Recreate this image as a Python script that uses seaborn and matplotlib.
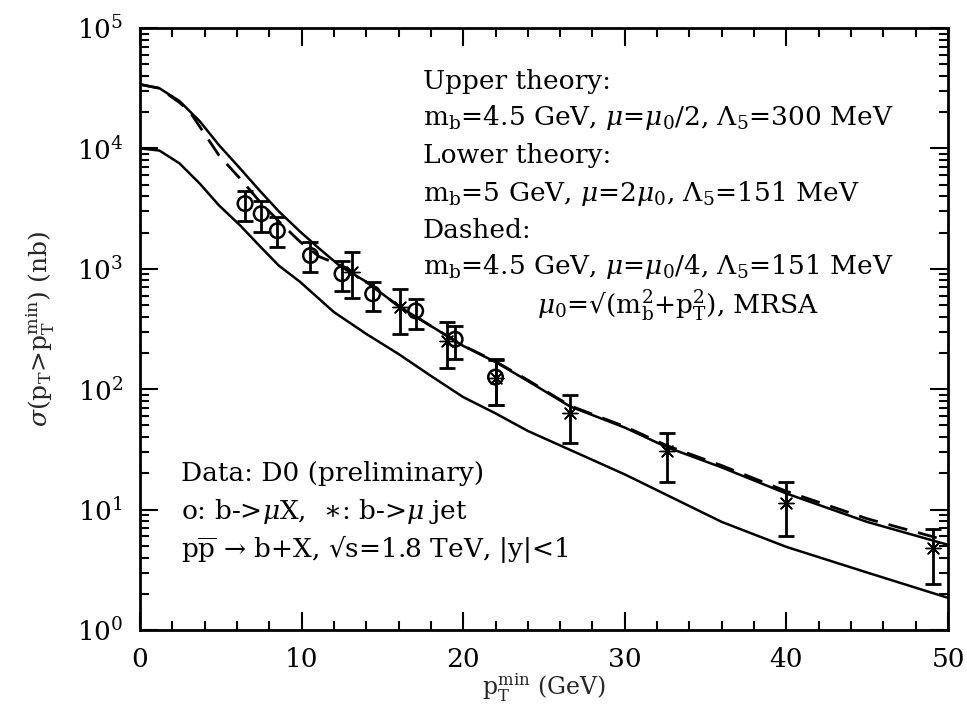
import numpy as np
import pandas as pd
import matplotlib
matplotlib.use("Agg")
import matplotlib.pyplot as plt
import seaborn as sns

# ---- theory curves ----
upper_x = [0, 1.2, 2.45, 3.7, 4.9, 6.2, 7.4, 8.6, 9.9, 11.1, 12.35, 14, 16, 18, 20, 22, 24, 26.6, 30, 32.6, 36, 40, 45, 50]
upper_y = [34000, 31600, 24700, 16800, 10600, 6800, 4470, 2990, 2040, 1470, 1060, 780, 490, 335, 229, 168, 117, 72, 48, 33, 22.4, 13.6, 7.9, 5.1]

lower_x = [0, 1.2, 2.45, 3.7, 4.9, 6.2, 7.4, 8.6, 9.9, 12, 14, 16, 18, 20, 22, 24, 30, 36, 40, 45, 50]
lower_y = [10000, 9600, 7500, 5100, 3350, 2290, 1550, 1060, 780, 437, 288, 196, 129, 86, 63, 45, 19.6, 7.9, 4.9, 3.0, 1.85]

dashed_x = [0, 1.2, 2.45, 3.1, 4.9, 6.2, 7.4, 8.6, 9.9, 11.1, 12.35, 14, 16, 18, 20, 22, 24, 26.6, 30, 32.6, 36, 40, 45, 50]
dashed_y = [34000, 31600, 24000, 20000, 8700, 5600, 3630, 2470, 1680, 1260, 1080, 780, 490, 335, 230, 170, 119, 73, 49, 34, 23.2, 14.2, 8.4, 5.5]

# ---- D0 data ----
mux_x = [6.5, 7.5, 8.5, 10.55, 12.5, 14.4, 17.06, 19.5, 22.0]
mux_y = [3480, 2870, 2070, 1290, 910, 620, 447, 260, 126]
mux_hi = [4470, 3630, 2710, 1680, 1170, 780, 562, 335, 174]
mux_lo = [2510, 2040, 1520, 945, 660, 447, 316, 178, 74]

jet_x = [13.1, 16.07, 19.0, 22.0, 26.6, 32.6, 40.0, 49.1]
jet_y = [945, 480, 251, 124, 64, 30.4, 11.4, 4.8]
jet_hi = [1380, 680, 363, 178, 89, 43.6, 16.8, 6.9]
jet_lo = [575, 288, 150, 74, 35.5, 16.8, 6.0, 2.4]

x_ticks = [0, 10, 20, 30, 40, 50]

sns.set_style("ticks")
plt.rcParams["font.family"] = ["DejaVu Serif", "DejaVu Sans"]
plt.rcParams["mathtext.fontset"] = "dejavuserif"
plt.rcParams["axes.unicode_minus"] = False
plt.rcParams["axes.formatter.use_mathtext"] = True

fig = plt.figure(figsize=(9.67, 7.06), dpi=100)
ax = fig.add_axes([140/967, 1-630/706, (948-140)/967, (630-28)/706])

curves = pd.concat([
    pd.DataFrame({"pt": upper_x, "sigma": upper_y, "curve": "upper"}),
    pd.DataFrame({"pt": lower_x, "sigma": lower_y, "curve": "lower"}),
])
sns.lineplot(data=curves, x="pt", y="sigma", units="curve", estimator=None,
             color="black", lw=1.8, ax=ax, sort=False)
sns.lineplot(x=dashed_x, y=dashed_y, color="black", lw=2.0, ax=ax,
             linestyle=(0, (7, 4)), sort=False)

mux_x_a = np.array(mux_x); mux_y_a = np.array(mux_y)
ax.errorbar(mux_x_a, mux_y_a,
            yerr=[mux_y_a - np.array(mux_lo), np.array(mux_hi) - mux_y_a],
            fmt="none", ecolor="black", elinewidth=2.0, capsize=5.5, capthick=2.0)
jet_x_a = np.array(jet_x); jet_y_a = np.array(jet_y)
ax.errorbar(jet_x_a, jet_y_a,
            yerr=[jet_y_a - np.array(jet_lo), np.array(jet_hi) - jet_y_a],
            fmt="none", ecolor="black", elinewidth=2.0, capsize=5.5, capthick=2.0)
sns.scatterplot(x=mux_x, y=mux_y, marker="o", s=110, facecolor="none",
                edgecolor="black", linewidth=1.8, ax=ax)
sns.scatterplot(x=jet_x, y=jet_y, marker=(8, 2, 0), s=120, color="black",
                linewidth=1.0, ax=ax)

ax.set_yscale("log")
ax.set_xlim(0, 50)
ax.set_ylim(1, 1e5)
ax.set_xticks(x_ticks)
ax.set_xticklabels([str(t) for t in x_ticks])
ax.xaxis.set_minor_locator(matplotlib.ticker.MultipleLocator(2))
ax.yaxis.set_minor_locator(matplotlib.ticker.LogLocator(base=10, subs=np.arange(2, 10), numticks=20))
ax.tick_params(which="both", direction="in", top=True, right=True, width=1.5, labelsize=19, colors="black")
ax.tick_params(axis="x", pad=12)
ax.tick_params(axis="y", pad=12)
ax.tick_params(which="major", length=13)
ax.tick_params(which="minor", length=6.5)
for sp in ax.spines.values():
    sp.set_linewidth(2)
    sp.set_color("black")

ax.set_xlabel(r"p$_\mathrm{T}^\mathrm{min}$ (GeV)", fontsize=17, labelpad=0)
ax.set_ylabel(r"$\sigma$(p$_\mathrm{T}$>p$_\mathrm{T}^\mathrm{min}$) (nb)", fontsize=18, labelpad=14)

fs = 19
tx = 423/967
lines = [
    (81, tx, "Upper theory:"),
    (118, tx, r"m$_\mathrm{b}$=4.5 GeV, $\mu$=$\mu_0$/2, $\Lambda_5$=300 MeV"),
    (156, tx, "Lower theory:"),
    (193, tx, r"m$_\mathrm{b}$=5 GeV, $\mu$=2$\mu_0$, $\Lambda_5$=151 MeV"),
    (230, tx, "Dashed:"),
    (267, tx, r"m$_\mathrm{b}$=4.5 GeV, $\mu$=$\mu_0$/4, $\Lambda_5$=151 MeV"),
    (305, 537/967, r"$\mu_0$=√(m$_\mathrm{b}^2$+p$_\mathrm{T}^2$), MRSA"),
    (473, 181/967, "Data: D0 (preliminary)"),
    (511, 181/967, r"o: b->$\mu$X,  $\ast$: b->$\mu$ jet"),
    (549, 181/967, r"p$\overline{\mathrm{p}}$ → b+X, √s=1.8 TeV, |y|<1"),
]
for yy, xx, s in lines:
    fig.text(xx, 1-yy/706, s, fontsize=fs, va="center", ha="left", color="black")

fig.savefig("out.png", dpi=100)
